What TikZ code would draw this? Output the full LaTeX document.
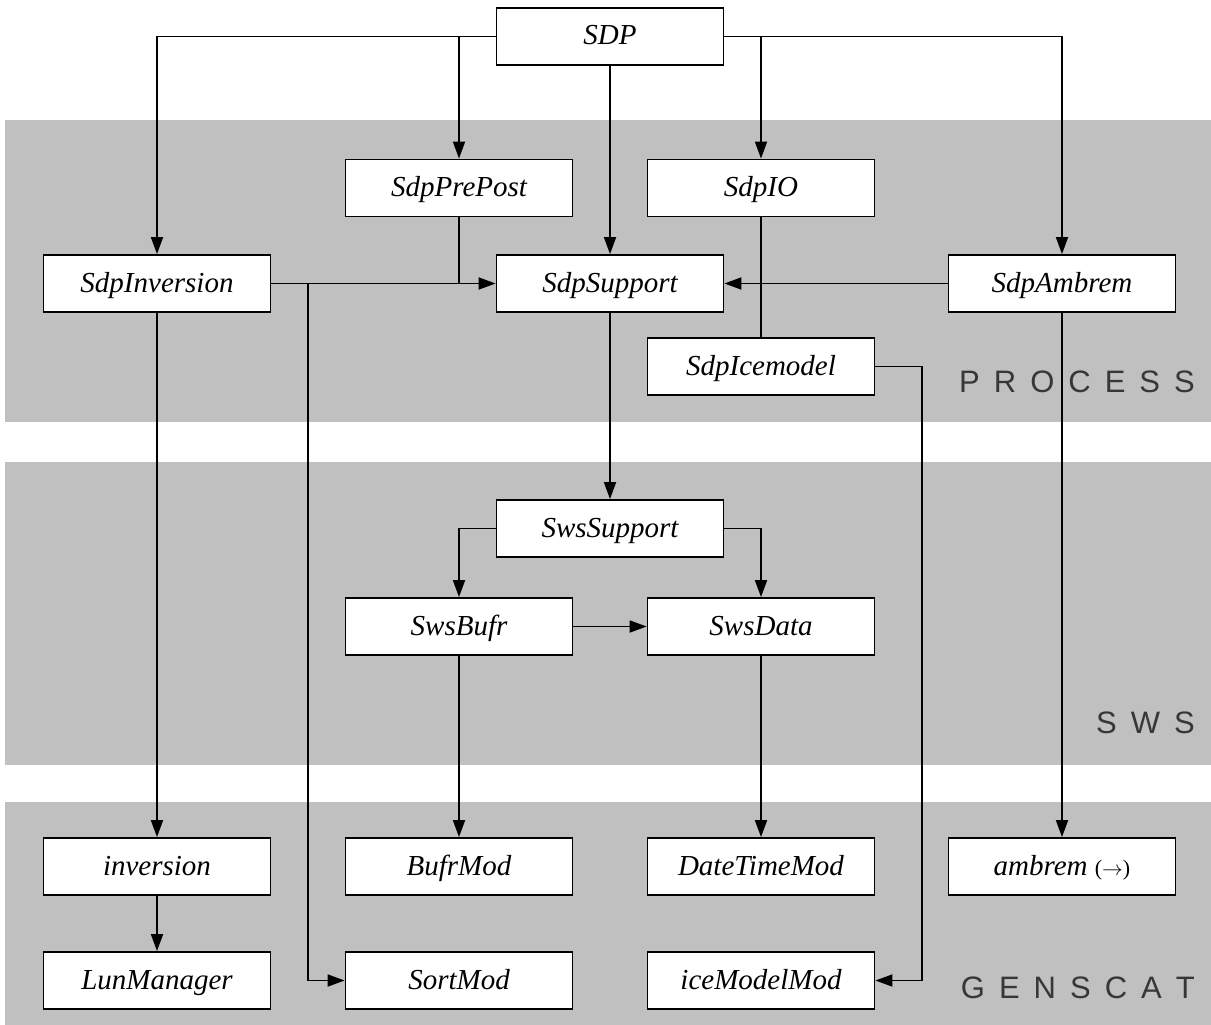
\documentclass[tikz,border=0pt]{standalone}
\usepackage{fontspec}
\setmainfont{Liberation Serif}
\newfontfamily\labfont{Liberation Sans}
\usetikzlibrary{arrows.meta}
\definecolor{band}{RGB}{192,192,192}
\definecolor{labgray}{RGB}{55,55,55}
\newcommand\gap{\hspace{14pt}}
\begin{document}
\begin{tikzpicture}[x=1pt,y=-1pt,
  modbox/.style={draw, fill=white, line width=1.8pt, minimum width=227pt, minimum height=57pt, inner sep=0pt,
    text height=20pt, text depth=3pt,
    font=\fontsize{29}{34}\selectfont\itshape},
  conn/.style={line width=1.8pt},
  arr/.style={conn, -{Triangle[length=17pt,width=12pt]}},
  lab/.style={anchor=base east, text=labgray, font=\labfont\fontsize{31}{36}\selectfont, inner sep=0pt}]
\useasboundingbox (0,0) rectangle (1211,1025);
% bands
\fill[band] (5,120) rectangle (1211,422);
\fill[band] (5,462) rectangle (1211,765);
\fill[band] (5,802) rectangle (1211,1025);
% nodes
\node[modbox] (SDP) at (610,36.5) {SDP};
\node[modbox] (SdpPrePost) at (459,188) {SdpPrePost};
\node[modbox] (SdpIO) at (761,188) {SdpIO};
\node[modbox] (SdpInversion) at (157,283.5) {SdpInversion};
\node[modbox] (SdpSupport) at (610,283.5) {SdpSupport};
\node[modbox] (SdpAmbrem) at (1062,283.5) {SdpAmbrem};
\node[modbox] (SdpIcemodel) at (761,366.5) {SdpIcemodel};
\node[modbox] (SwsSupport) at (610,528.5) {SwsSupport};
\node[modbox] (SwsBufr) at (459,626.5) {SwsBufr};
\node[modbox] (SwsData) at (761,626.5) {SwsData};
\node[modbox] (inversion) at (157,866.5) {inversion};
\node[modbox] (BufrMod) at (459,866.5) {BufrMod};
\node[modbox] (DateTimeMod) at (761,866.5) {DateTimeMod};
\node[modbox] (ambrem) at (1062,866.5) {ambrem {\upshape\fontsize{22}{24}\selectfont($\rightarrow$)}};
\node[modbox] (LunManager) at (157,980.5) {LunManager};
\node[modbox] (SortMod) at (459,980.5) {SortMod};
\node[modbox] (iceModelMod) at (761,980.5) {iceModelMod};
% labels
\node[lab] (lproc) at (1195,392) {P\gap R\gap O\gap C\gap E\gap S\gap S};
\node[lab] (lsws) at (1195,733) {S\gap W\gap S};
\node[lab] (lgen) at (1195,998) {G\gap E\gap N\gap S\gap C\gap A\gap T};
% connectors
\coordinate (tj) at (308,283.5);
\coordinate (ic) at (922,366.5);
\draw[arr] (SDP.west) -| (SdpInversion.north);
\draw[arr] (SDP.west -| SdpPrePost.north) -- (SdpPrePost.north);
\draw[arr] (SDP.south) -- (SdpSupport.north);
\draw[arr] (SDP.east) -| (SdpAmbrem.north);
\draw[arr] (SDP.east -| SdpIO.north) -- (SdpIO.north);
\draw[arr] (SdpInversion.east) -- (SdpSupport.west);
\draw[conn] (SdpPrePost.south) -- (SdpPrePost.south |- SdpSupport.west);
\draw[arr] (SdpAmbrem.west) -- (SdpSupport.east);
\draw[conn] (SdpIO.south) -- (SdpIcemodel.north);
\draw[arr] (tj) |- (SortMod.west);
\draw[arr] (SdpIcemodel.east) -- (ic) |- (iceModelMod.east);
\draw[arr] (SdpInversion.south) -- (inversion.north);
\draw[arr] (SdpAmbrem.south) -- (ambrem.north);
\draw[arr] (SdpSupport.south) -- (SwsSupport.north);
\draw[arr] (SwsSupport.west) -| (SwsBufr.north);
\draw[arr] (SwsSupport.east) -| (SwsData.north);
\draw[arr] (SwsBufr.east) -- (SwsData.west);
\draw[arr] (SwsBufr.south) -- (BufrMod.north);
\draw[arr] (SwsData.south) -- (DateTimeMod.north);
\draw[arr] (inversion.south) -- (LunManager.north);
\end{tikzpicture}
\end{document}
